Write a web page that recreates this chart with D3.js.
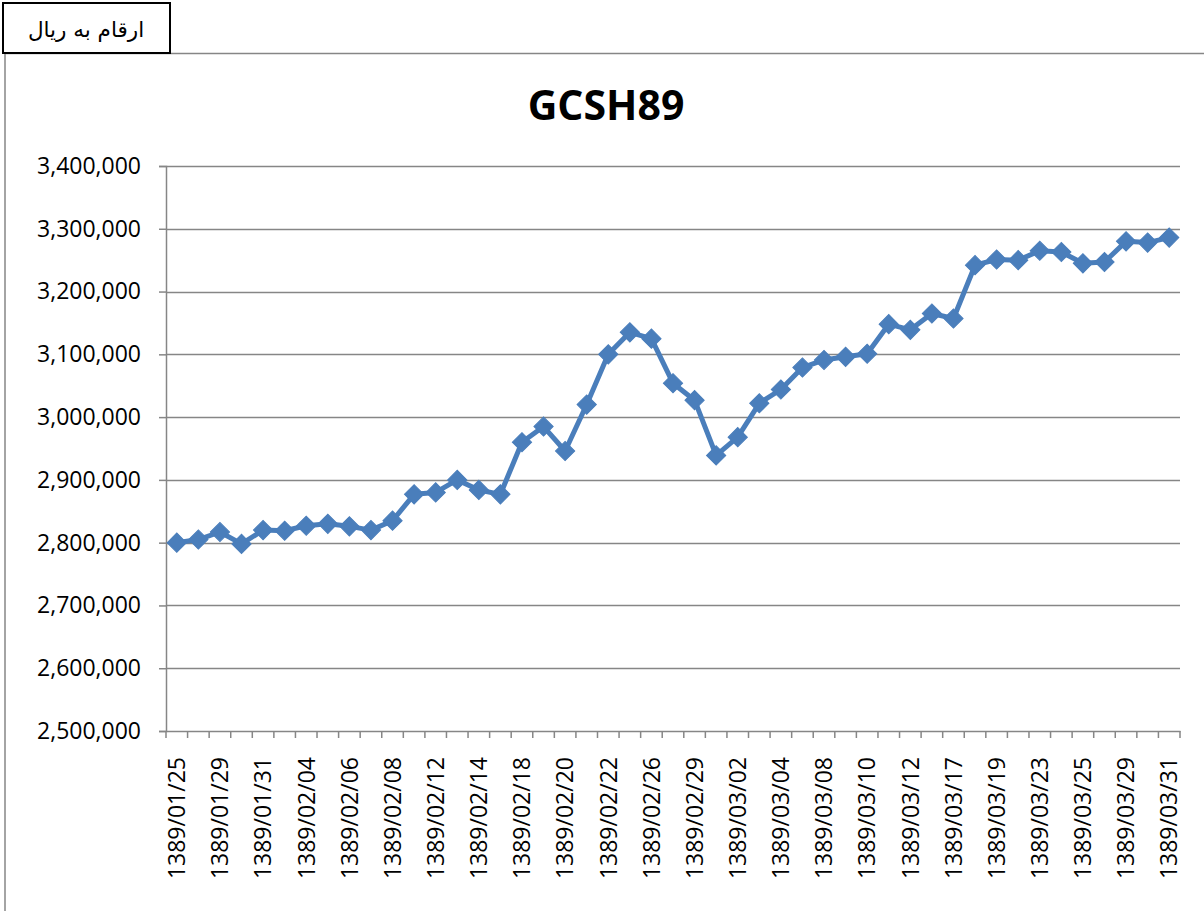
<!DOCTYPE html>
<html>
<head>
<meta charset="utf-8">
<script src="https://cdn.jsdelivr.net/npm/d3@7"></script>
<style>
  html, body { margin: 0; padding: 0; background: #fff; }
  svg { display: block; }
</style>
</head>
<body>
<svg id="chart" width="1204" height="911"></svg>
<script>
const title = "GCSH89";
const unitLabel = "ارقام به ریال";

const dates = [
  "1389/01/25","1389/01/28","1389/01/29","1389/01/30","1389/01/31","1389/02/01",
  "1389/02/04","1389/02/05","1389/02/06","1389/02/07","1389/02/08",
  "1389/02/11","1389/02/12","1389/02/13","1389/02/14","1389/02/15",
  "1389/02/18","1389/02/19","1389/02/20","1389/02/21","1389/02/22",
  "1389/02/25","1389/02/26","1389/02/27","1389/02/29",
  "1389/03/01","1389/03/02","1389/03/03","1389/03/04","1389/03/05",
  "1389/03/08","1389/03/09","1389/03/10","1389/03/11","1389/03/12",
  "1389/03/16","1389/03/17","1389/03/18","1389/03/19",
  "1389/03/22","1389/03/23","1389/03/24","1389/03/25","1389/03/26",
  "1389/03/29","1389/03/30","1389/03/31"
];

const prices = [
  2800000, 2805000, 2817000, 2798000, 2820000, 2819000,
  2827000, 2830000, 2826000, 2820000, 2835000,
  2877000, 2880000, 2900000, 2884000, 2877000,
  2960000, 2985000, 2946000, 3020000, 3100000,
  3135000, 3125000, 3054000, 3027000,
  2939000, 2968000, 3022000, 3044000, 3079000,
  3091000, 3096000, 3101000, 3148000, 3139000,
  3165000, 3157000, 3242000, 3251000,
  3250000, 3265000, 3263000, 3245000, 3247000,
  3280000, 3278000, 3286000
];

const yTicks = [2500000, 2600000, 2700000, 2800000, 2900000, 3000000, 3100000, 3200000, 3300000, 3400000];

(function () {
const svg = d3.select("#chart");
const gray = "#868686";
const lineBlue = "#4a7ebb";
const font = "'Open Sans', 'Liberation Sans', sans-serif";

// outer chart frame
svg.append("line").attr("x1", 5).attr("x2", 5).attr("y1", 53).attr("y2", 911)
  .attr("stroke", gray).attr("stroke-width", 1.5);
svg.append("line").attr("x1", 5).attr("x2", 1204).attr("y1", 53.5).attr("y2", 53.5)
  .attr("stroke", gray).attr("stroke-width", 1.5);

// unit text box
svg.append("rect").attr("x", 3).attr("y", 3).attr("width", 167).attr("height", 50)
  .attr("fill", "#fff").attr("stroke", "#000").attr("stroke-width", 2);
svg.append("text").attr("x", 86).attr("y", 37)
  .attr("text-anchor", "middle")
  .attr("direction", "rtl")
  .style("font-family", "'DejaVu Sans', 'Liberation Sans', sans-serif")
  .style("font-size", "21.5px")
  .attr("fill", "#000")
  .text(unitLabel);

// title
svg.append("text").attr("x", 606).attr("y", 120)
  .attr("text-anchor", "middle")
  .style("font-family", font).style("font-weight", "bold").style("font-size", "41px")
  .attr("fill", "#000").text(title);

const pLeft = 166, pRight = 1180, pTop = 166, pBottom = 731;
const x = d3.scaleBand().domain(dates).range([pLeft, pRight]).padding(0);
const y = d3.scaleLinear().domain([2500000, 3400000]).range([pBottom, pTop]);
const cx = d => x(d) + x.bandwidth() / 2;

// gridlines
svg.append("g").selectAll("line").data(yTicks.slice(1)).join("line")
  .attr("x1", pLeft).attr("x2", pRight)
  .attr("y1", d => Math.round(y(d)) + 0.5).attr("y2", d => Math.round(y(d)) + 0.5)
  .attr("stroke", gray).attr("stroke-width", 1.5);

// y axis
const yAxis = svg.append("g").attr("transform", `translate(${pLeft},0)`)
  .call(d3.axisLeft(y).tickValues(yTicks).tickFormat(d3.format(",")).tickSize(7).tickPadding(18));
yAxis.select(".domain").attr("stroke", gray).attr("stroke-width", 1.5);
yAxis.selectAll(".tick line").attr("stroke", gray).attr("stroke-width", 1.5);
yAxis.selectAll(".tick text").style("font-family", font).style("font-size", "23px").attr("fill", "#000");

// x axis
const xAxis = svg.append("g").attr("transform", `translate(0,${pBottom})`)
  .call(d3.axisBottom(x).tickSize(0).tickSizeOuter(0)
    .tickFormat((d, i) => i % 2 === 0 ? d : ""));
xAxis.select(".domain").attr("stroke", gray).attr("stroke-width", 1.5);
xAxis.selectAll(".tick text")
  .style("font-family", font).style("font-size", "23px").attr("fill", "#000")
  .attr("text-anchor", "end")
  .attr("transform", "rotate(-90)")
  .attr("x", -26).attr("y", 0).attr("dy", "0.36em");

// boundary ticks
const bounds = dates.map(d => x(d)).concat([pRight]);
svg.append("g").selectAll("line").data(bounds).join("line")
  .attr("x1", d => d).attr("x2", d => d).attr("y1", pBottom).attr("y2", pBottom + 7)
  .attr("stroke", gray).attr("stroke-width", 1.5);

// line
const series = dates.map((d, i) => ({ d, v: prices[i] }));
svg.append("path").datum(series)
  .attr("fill", "none").attr("stroke", lineBlue).attr("stroke-width", 5)
  .attr("stroke-linejoin", "round")
  .attr("d", d3.line().x(p => cx(p.d)).y(p => y(p.v)));

// diamond markers
const sym = d3.symbol().type(d3.symbolSquare).size(185);
svg.append("g").selectAll("path").data(series).join("path")
  .attr("d", sym)
  .attr("transform", p => `translate(${cx(p.d)},${y(p.v)}) rotate(45)`)
  .attr("fill", lineBlue).attr("stroke", lineBlue).attr("stroke-width", 1);
})();
</script>
</body>
</html>
